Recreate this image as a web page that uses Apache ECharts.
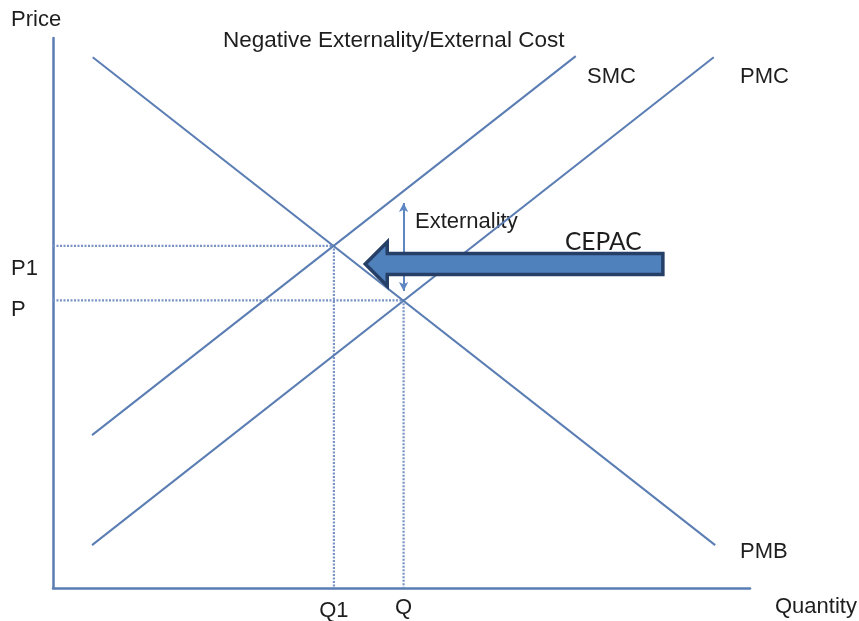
<!DOCTYPE html>
<html>
<head>
<meta charset="utf-8">
<script src="https://cdn.jsdelivr.net/npm/echarts@6/dist/echarts.min.js"></script>
<style>
html,body{margin:0;padding:0;background:#fff;}
#chart{width:859px;height:621px;}
</style>
</head>
<body>
<div id="chart"></div>
<script>
// ---- data (quantity, price) in chart units 0..100 ----
const pmbLine = [[5.7, 96.5], [95.0, 7.8]];   // private marginal benefit (demand)
const pmcLine = [[5.6, 7.8], [94.8, 96.5]];   // private marginal cost
const smcLine = [[5.6, 27.8], [75.0, 96.7]];  // social marginal cost
const socialEq = [40.3, 62.2];                // Q1, P1
const marketEq = [50.3, 52.3];                // Q, P
const externalitySpan = [70.0, 54.0];         // price levels of the double arrow
const cepacArrow = [[44.8, 87.5, 58.9]];      // tip quantity, tail quantity, price
const priceTickLabels = ['P1', 'P'];
const quantityTickLabels = ['Q1', 'Q'];
const curveNames = ['SMC', 'PMC', 'PMB'];

const lineColor = '#5a7db3';
const dotColor = '#7893c4';
const txt = '#1e1e1e';
const font = '"Liberation Sans", Arial, sans-serif';

const chart = echarts.init(document.getElementById('chart'), null, {renderer: 'canvas'});

function curve(name, data) {
  return {
    name, type: 'line', data, showSymbol: false, silent: true,
    lineStyle: {color: lineColor, width: 2}, z: 3
  };
}
function dotted(eq) {
  return {
    type: 'line', data: [[0, eq[1]], [eq[0], eq[1]], [eq[0], 0]],
    showSymbol: false, silent: true,
    lineStyle: {color: dotColor, width: 2.2, type: [2, 1.5]}, z: 2
  };
}

const option = {
  animation: false,
  grid: {left: 53, right: 109, top: 38, bottom: 33, containLabel: false},
  xAxis: {
    type: 'value', min: 0, max: 100,
    axisLine: {show: true, onZero: false, lineStyle: {color: lineColor, width: 2.5}},
    axisTick: {show: false}, axisLabel: {show: false}, splitLine: {show: false}
  },
  yAxis: {
    type: 'value', min: 0, max: 100,
    axisLine: {show: true, onZero: false, lineStyle: {color: lineColor, width: 2.5}},
    axisTick: {show: false}, axisLabel: {show: false}, splitLine: {show: false}
  },
  series: [
    dotted(socialEq),
    dotted(marketEq),
    curve(curveNames[2], pmbLine),
    curve(curveNames[1], pmcLine),
    curve(curveNames[0], smcLine),
    {
      type: 'line', data: [], silent: true,
      markLine: {
        silent: true, symbol: ['arrow', 'arrow'], symbolSize: [7, 9],
        label: {show: false},
        lineStyle: {color: '#5d86c2', width: 2, type: 'solid'},
        data: [[{coord: [marketEq[0], externalitySpan[0]]}, {coord: [marketEq[0], externalitySpan[1]]}]]
      }
    },
    {
      type: 'custom', silent: true, z: 10,
      data: cepacArrow,
      renderItem: function (params, api) {
        const tip = api.coord([api.value(0), api.value(2)]);
        const tail = api.coord([api.value(1), api.value(2)]);
        const y = tip[1];
        const sh = 10.5, hh = 22, hl = 22;
        const pts = [
          [tip[0], y],
          [tip[0] + hl, y - hh],
          [tip[0] + hl, y - sh],
          [tail[0], y - sh],
          [tail[0], y + sh],
          [tip[0] + hl, y + sh],
          [tip[0] + hl, y + hh]
        ];
        return {
          type: 'polygon', shape: {points: pts},
          style: {fill: '#4f81bd', stroke: '#263f66', lineWidth: 3.5, lineJoin: 'miter'}
        };
      }
    }
  ]
};
chart.setOption(option);

// ---- text annotations ----
const p1 = chart.convertToPixel({gridIndex: 0}, [0, socialEq[1]]);
const p0 = chart.convertToPixel({gridIndex: 0}, [0, marketEq[1]]);
const q1 = chart.convertToPixel({gridIndex: 0}, [socialEq[0], 0]);
const q0 = chart.convertToPixel({gridIndex: 0}, [marketEq[0], 0]);

function t(text, x, y, size, align, ff) {
  return {
    type: 'text', x, y, silent: true,
    style: {text, fill: txt, font: size + 'px ' + (ff || font), textAlign: align || 'left', textVerticalAlign: 'middle'}
  };
}

chart.setOption({
  graphic: [
    t('Price', 11, 20, 22),
    t('Negative Externality/External Cost', 223, 41, 22.5),
    t(curveNames[0], 587, 77, 22),
    t(curveNames[1], 740, 77, 22),
    t(curveNames[2], 740, 552, 22),
    t('Quantity', 775, 607, 22),
    t('Externality', 415, 222, 22),
    t('CEPAC', 565, 242, 24.5, 'left', 'Lato, "Liberation Sans", sans-serif'),
    t(priceTickLabels[0], 11, p1[1] + 23, 22),
    t(priceTickLabels[1], 11, p0[1] + 10, 22),
    t(quantityTickLabels[0], q1[0], q1[1] + 23, 22, 'center'),
    t(quantityTickLabels[1], q0[0], q0[1] + 20, 22, 'center')
  ]
});
</script>
</body>
</html>
